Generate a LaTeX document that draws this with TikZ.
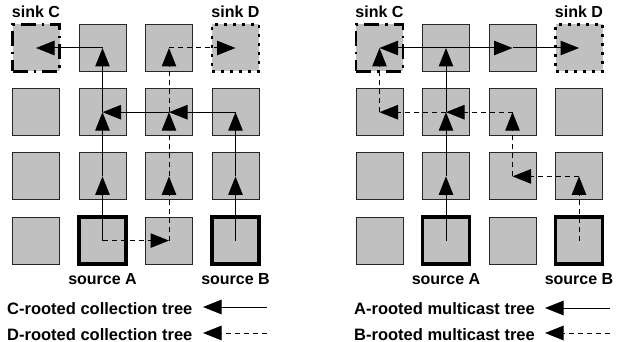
\documentclass[tikz,border=0pt]{standalone}
\usepackage{fontspec}
\setmainfont{Liberation Sans}
\usetikzlibrary{arrows.meta}
\definecolor{cellgray}{RGB}{192,192,192}
\begin{document}
\begin{tikzpicture}[x=1pt,y=-1pt,
  cell/.style={draw=black!85, line width=0.9pt, fill=cellgray, minimum size=47pt, inner sep=0pt, outer sep=0pt},
  src/.style={cell, draw=black, line width=3.5pt},
  sinkc/.style={cell, draw=black, line width=2.6pt, dash pattern=on 15pt off 6pt on 2.5pt off 6pt},
  sinkd/.style={cell, draw=black, line width=2.6pt, dash pattern=on 3pt off 6pt},
  lbl/.style={font=\fontsize{16}{19}\selectfont\bfseries, inner sep=0pt, anchor=base},
  leg/.style={lbl, font=\fontsize{16.5}{19}\selectfont\bfseries, anchor=base west},
  tree/.style={line width=1pt, -{Triangle[length=18.5pt,width=14.5pt]}},
  dtree/.style={tree, dash pattern=on 5pt off 4pt},
]
\useasboundingbox (0,0) rectangle (629,342);

\foreach \g/\ox in {L/0,R/343.5} {
  \foreach \c/\r/\s in {0/0/sinkc,1/0/cell,2/0/cell,3/0/sinkd,
                        0/1/cell,1/1/cell,2/1/cell,3/1/cell,
                        0/2/cell,1/2/cell,2/2/cell,3/2/cell,
                        0/3/cell,1/3/src,2/3/cell,3/3/src}
    \node[\s] (\g\c\r) at (\ox+36+66.5*\c, 48+64.2*\r) {};
}

% left: C-rooted collection tree (solid)
\draw[tree] (L13.center) -- (L12.center);
\draw[tree] (L12.center) -- (L11.center);
\draw[tree] (L11.center) -- (L10.center);
\draw[tree] (L10.center) -- (L00.center);
\draw[tree] (L33.center) -- (L32.center);
\draw[tree] (L32.center) -- (L31.center);
\draw[tree] (L31.center) -- (L21.center);
\draw[tree] (L21.center) -- (L11.center);
% left: D-rooted collection tree (dashed)
\draw[dtree] (L13.center) -- (L23.center);
\draw[dtree] (L23.center) -- (L22.center);
\draw[dtree] (L22.center) -- (L21.center);
\draw[dtree] (L21.center) -- (L20.center);
\draw[dtree] (L20.center) -- (L30.center);

% right: A-rooted multicast tree (solid)
\draw[tree] (R13.center) -- (R12.center);
\draw[tree] (R12.center) -- (R11.center);
\draw[tree] (R11.center) -- (R10.center);
\draw[tree] (R10.center) -- (R00.center);
\draw[tree] (R10.center) -- (R20.center);
\draw[tree] (R20.center) -- (R30.center);
% right: B-rooted multicast tree (dashed)
\draw[dtree] (R33.center) -- (R32.center);
\draw[dtree] (R32.center) -- (R22.center);
\draw[dtree] (R22.center) -- (R21.center);
\draw[dtree] (R21.center) -- (R11.center);
\draw[dtree] (R11.center) -- (R01.center);
\draw[dtree] (R01.center) -- (R00.center);

% labels
\node[lbl] (lsinkC) at (36,18) {sink C};
\node[lbl] (lsinkD) at (235.5,18) {sink D};
\node[lbl] (lsrcA) at (102.5,284) {source A};
\node[lbl] (lsrcB) at (235.5,284) {source B};
\node[lbl] (rsinkC) at (379.5,18) {sink C};
\node[lbl] (rsinkD) at (579,18) {sink D};
\node[lbl] (rsrcA) at (446,284) {source A};
\node[lbl] (rsrcB) at (579,284) {source B};

% legends
\node[leg] (legC) at (7,314) {C-rooted collection tree};
\node[leg] (legD) at (7,340) {D-rooted collection tree};
\node[leg] (legA) at (354,314) {A-rooted multicast tree};
\node[leg] (legB) at (354,340) {B-rooted multicast tree};
\coordinate (lc1) at (267,307); \coordinate (lc0) at (203,307);
\coordinate (ld1) at (267,333); \coordinate (ld0) at (203,333);
\coordinate (ra1) at (610,308); \coordinate (ra0) at (545,308);
\coordinate (rb1) at (610,333); \coordinate (rb0) at (545,333);
\draw[tree] (lc1) -- (lc0);
\draw[dtree] (ld1) -- (ld0);
\draw[tree] (ra1) -- (ra0);
\draw[dtree] (rb1) -- (rb0);
\end{tikzpicture}
\end{document}
